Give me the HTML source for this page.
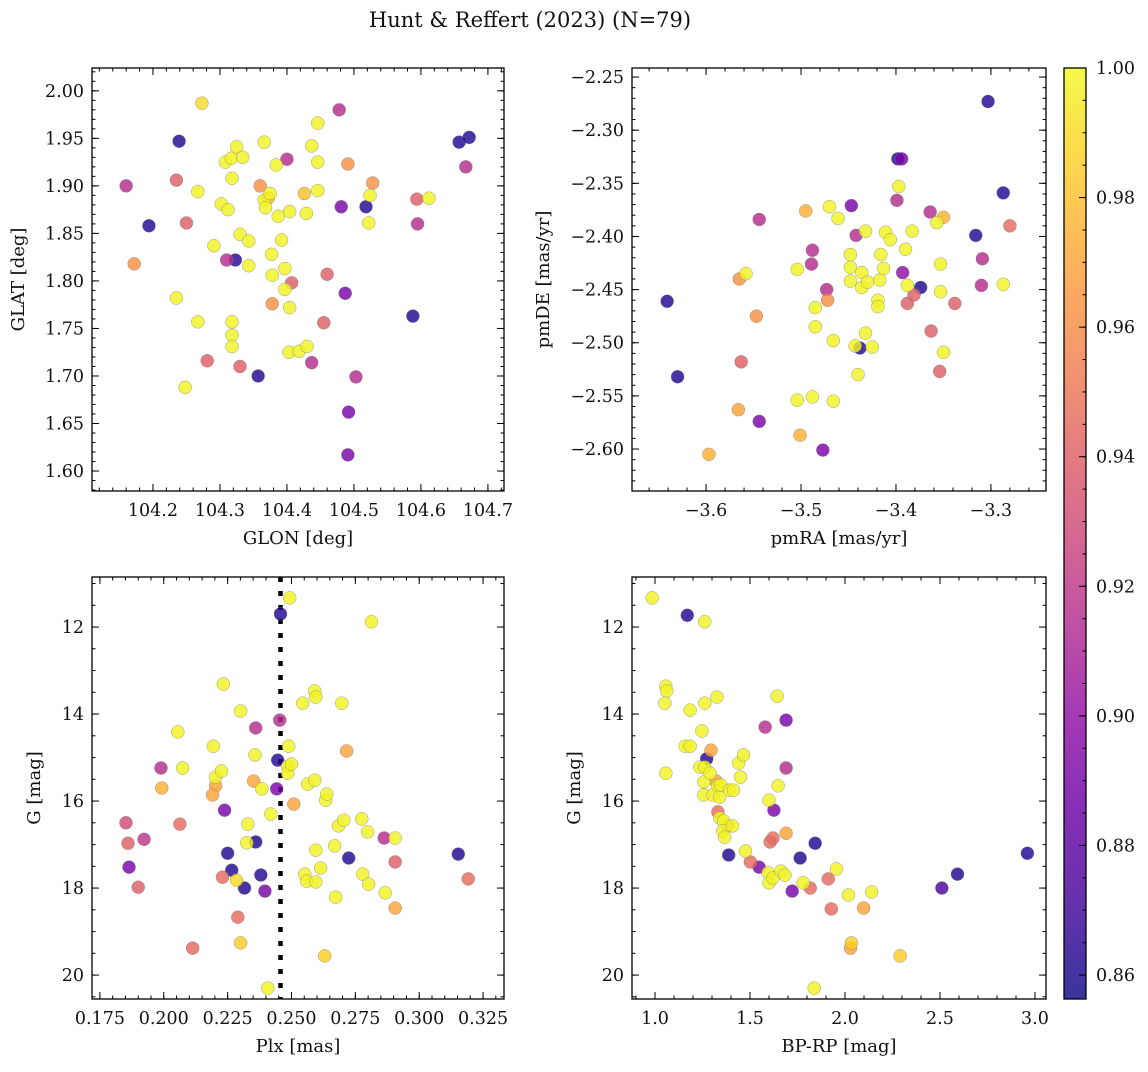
<!DOCTYPE html>
<html><head><meta charset="utf-8"><style>
body{margin:0;background:#fff;}
svg text{font-family:"DejaVu Serif","Liberation Serif",serif;fill:#111;}
</style></head><body>
<svg id="fig" width="1148" height="1067" xmlns="http://www.w3.org/2000/svg">
<defs>
<linearGradient id="plasma" x1="0" y1="1" x2="0" y2="0">
<stop offset="0" stop-color="#0d0887"/><stop offset="0.1" stop-color="#41049d"/><stop offset="0.2" stop-color="#6a00a8"/><stop offset="0.3" stop-color="#8f0da4"/><stop offset="0.4" stop-color="#b12a90"/><stop offset="0.5" stop-color="#cc4778"/><stop offset="0.6" stop-color="#e16462"/><stop offset="0.7" stop-color="#f2844b"/><stop offset="0.8" stop-color="#fca636"/><stop offset="0.9" stop-color="#fcce25"/><stop offset="1" stop-color="#f0f921"/>
</linearGradient>
</defs>
<text x="530" y="27" font-size="21" text-anchor="middle">Hunt &amp; Reffert (2023) (N=79)</text>
</svg>
<script>
// Panel 1: GLON vs GLAT
const p1x=[104.160,104.194,104.172,104.235,104.273,104.239,104.267,104.250,104.235,104.267,104.281,104.248,104.291,104.302,104.312,104.308,104.317,104.318,104.325,104.334,104.330,104.343,104.310,104.323,104.343,104.318,104.318,104.318,104.330,104.357,104.360,104.366,104.366,104.368,104.375,104.372,104.384,104.387,104.377,104.392,104.397,104.378,104.378,104.400,104.397,104.404,104.404,104.407,104.403,104.418,104.430,104.426,104.429,104.437,104.446,104.446,104.446,104.437,104.455,104.460,104.478,104.481,104.487,104.491,104.492,104.491,104.503,104.518,104.522,104.524,104.528,104.588,104.594,104.595,104.612,104.657,104.672,104.667];
const p1y=[1.900,1.858,1.818,1.906,1.987,1.947,1.894,1.861,1.782,1.757,1.716,1.688,1.837,1.881,1.875,1.925,1.929,1.908,1.941,1.930,1.849,1.842,1.822,1.822,1.816,1.757,1.743,1.731,1.710,1.700,1.900,1.946,1.885,1.877,1.892,1.887,1.922,1.868,1.828,1.843,1.813,1.806,1.776,1.928,1.791,1.873,1.772,1.798,1.725,1.726,1.731,1.892,1.871,1.942,1.966,1.925,1.895,1.714,1.756,1.807,1.980,1.878,1.787,1.923,1.662,1.617,1.699,1.878,1.861,1.890,1.903,1.763,1.886,1.860,1.887,1.946,1.951,1.920];
const p1c=[0.915,0.862,0.962,0.94,0.99,0.862,0.998,0.94,0.998,0.998,0.94,0.998,0.998,0.998,0.998,0.998,0.998,0.998,0.998,0.998,0.998,0.998,0.915,0.862,0.998,0.998,0.998,0.998,0.94,0.862,0.962,0.998,0.998,0.998,0.998,0.98,0.998,0.998,0.998,0.998,0.998,0.998,0.962,0.915,0.998,0.998,0.998,0.94,0.998,0.998,0.998,0.98,0.998,0.998,0.998,0.998,0.998,0.915,0.94,0.94,0.915,0.89,0.89,0.962,0.89,0.89,0.915,0.862,0.998,0.998,0.962,0.862,0.94,0.915,0.998,0.862,0.862,0.915];
// Panel 2: pmRA vs pmDE
const p2x=[-3.641,-3.630,-3.597,-3.565,-3.563,-3.566,-3.558,-3.547,-3.544,-3.544,-3.504,-3.504,-3.501,-3.495,-3.489,-3.488,-3.488,-3.485,-3.485,-3.477,-3.473,-3.472,-3.470,-3.466,-3.466,-3.461,-3.447,-3.448,-3.448,-3.448,-3.442,-3.443,-3.440,-3.438,-3.436,-3.436,-3.432,-3.432,-3.430,-3.425,-3.419,-3.419,-3.417,-3.416,-3.413,-3.411,-3.406,-3.398,-3.394,-3.397,-3.399,-3.393,-3.390,-3.388,-3.388,-3.383,-3.381,-3.374,-3.364,-3.363,-3.357,-3.353,-3.353,-3.350,-3.354,-3.350,-3.338,-3.316,-3.310,-3.309,-3.303,-3.287,-3.287,-3.280];
const p2y=[-2.461,-2.532,-2.605,-2.440,-2.518,-2.563,-2.435,-2.475,-2.574,-2.384,-2.431,-2.554,-2.587,-2.376,-2.426,-2.413,-2.551,-2.467,-2.485,-2.601,-2.450,-2.460,-2.372,-2.498,-2.555,-2.383,-2.371,-2.417,-2.429,-2.442,-2.399,-2.503,-2.530,-2.505,-2.434,-2.448,-2.395,-2.491,-2.443,-2.504,-2.460,-2.466,-2.441,-2.417,-2.430,-2.396,-2.403,-2.327,-2.327,-2.353,-2.366,-2.434,-2.412,-2.446,-2.463,-2.395,-2.455,-2.448,-2.377,-2.489,-2.387,-2.426,-2.452,-2.382,-2.527,-2.509,-2.463,-2.399,-2.446,-2.421,-2.273,-2.359,-2.445,-2.390];
const p2c=[0.862,0.862,0.975,0.962,0.94,0.97,0.998,0.962,0.89,0.915,0.998,0.998,0.975,0.975,0.915,0.915,0.998,0.998,0.998,0.89,0.915,0.962,0.998,0.998,0.998,0.998,0.89,0.998,0.998,0.998,0.915,0.998,0.998,0.862,0.998,0.998,0.998,0.998,0.998,0.998,0.998,0.998,0.998,0.998,0.998,0.998,0.998,0.862,0.89,0.998,0.915,0.90,0.998,0.998,0.94,0.998,0.94,0.862,0.915,0.94,0.998,0.998,0.998,0.975,0.94,0.998,0.94,0.862,0.915,0.915,0.862,0.862,0.998,0.945];
// Panel 3: Plx vs G
const p3x=[0.1852,0.1860,0.1864,0.1900,0.1923,0.1989,0.1992,0.2055,0.2063,0.2074,0.2113,0.2194,0.2203,0.2203,0.2191,0.2226,0.2233,0.2238,0.2250,0.2230,0.2266,0.2285,0.2290,0.2301,0.2301,0.2316,0.2325,0.2329,0.2352,0.2357,0.2360,0.2360,0.2384,0.2380,0.2396,0.2407,0.2419,0.2442,0.2446,0.2454,0.2457,0.2485,0.2489,0.2485,0.2493,0.2500,0.2509,0.2544,0.2552,0.2559,0.2563,0.2591,0.2595,0.2591,0.2595,0.2595,0.2614,0.2634,0.2638,0.2630,0.2669,0.2673,0.2684,0.2697,0.2705,0.2716,0.2724,0.2775,0.2779,0.2798,0.2802,0.2813,0.2867,0.2863,0.2906,0.2906,0.2906,0.3153,0.3192];
const p3y=[16.50,16.97,17.52,17.98,16.88,15.24,15.70,14.41,16.53,15.24,19.38,14.74,15.45,15.65,15.86,15.31,13.31,16.21,17.20,17.75,17.59,17.82,18.67,13.93,19.26,18.00,16.96,16.53,15.54,14.94,14.32,16.94,15.72,17.70,18.07,20.30,16.30,15.72,15.06,14.14,11.70,15.20,14.74,15.36,11.33,15.15,16.07,13.75,17.68,17.84,15.61,13.47,13.61,15.52,17.13,17.86,17.54,15.98,15.84,19.56,17.03,18.21,16.57,13.75,16.44,14.85,17.31,16.41,17.68,16.71,17.91,11.88,18.11,16.85,16.85,17.40,18.46,17.22,17.79];
const p3c=[0.93,0.94,0.89,0.94,0.92,0.915,0.975,0.998,0.945,0.998,0.945,0.998,0.998,0.97,0.97,0.998,0.998,0.89,0.862,0.945,0.862,0.99,0.945,0.998,0.985,0.862,0.998,0.998,0.97,0.998,0.915,0.862,0.998,0.862,0.89,0.998,0.998,0.89,0.862,0.915,0.862,0.998,0.998,0.998,0.998,0.998,0.97,0.998,0.998,0.998,0.998,0.998,0.998,0.998,0.998,0.998,0.998,0.998,0.998,0.985,0.998,0.998,0.998,0.998,0.998,0.97,0.862,0.998,0.998,0.998,0.998,0.998,0.998,0.915,0.998,0.94,0.97,0.862,0.945];
// Panel 4: BP-RP vs G
const p4x=[0.985,1.057,1.062,1.052,1.057,1.170,1.185,1.159,1.185,1.236,1.247,1.257,1.257,1.262,1.262,1.262,1.272,1.290,1.295,1.305,1.321,1.326,1.331,1.341,1.346,1.331,1.341,1.362,1.357,1.367,1.382,1.388,1.408,1.393,1.413,1.440,1.450,1.466,1.476,1.502,1.548,1.580,1.595,1.600,1.606,1.621,1.600,1.621,1.626,1.643,1.648,1.663,1.684,1.690,1.690,1.690,1.722,1.764,1.780,1.817,1.843,1.838,1.912,1.928,1.955,2.018,2.034,2.029,2.098,2.140,2.290,2.510,2.592,2.960];
const p4y=[11.33,13.36,13.47,13.75,15.36,11.73,13.91,14.74,14.74,15.22,14.39,15.56,15.86,11.88,13.75,15.22,15.03,15.36,14.83,15.86,15.54,13.61,15.65,15.91,15.63,16.25,16.39,16.46,16.69,16.83,16.57,17.24,16.57,15.75,15.75,15.13,15.45,14.94,17.15,17.40,17.52,14.30,17.65,15.98,16.94,16.85,17.88,17.77,16.21,13.59,15.65,17.61,17.70,15.24,14.14,16.74,18.07,17.31,17.88,18.00,16.97,20.30,17.79,18.48,17.56,18.16,19.26,19.38,18.46,18.09,19.56,18.00,17.68,17.20];
const p4c=[0.998,0.998,0.998,0.998,0.998,0.862,0.998,0.998,0.998,0.998,0.998,0.998,0.998,0.998,0.998,0.998,0.862,0.998,0.97,0.998,0.97,0.998,0.998,0.998,0.998,0.945,0.998,0.998,0.998,0.998,0.97,0.862,0.998,0.998,0.998,0.998,0.998,0.998,0.998,0.945,0.89,0.915,0.998,0.998,0.945,0.945,0.998,0.998,0.89,0.998,0.998,0.998,0.998,0.915,0.89,0.97,0.89,0.862,0.998,0.945,0.862,0.998,0.945,0.945,0.998,0.998,0.985,0.97,0.97,0.998,0.985,0.875,0.862,0.862];
const cbTicks=[0.86,0.88,0.90,0.92,0.94,0.96,0.98,1.00];

const NS='http://www.w3.org/2000/svg';
const svg=document.getElementById('fig');
function mk(tag,attrs,parent){const e=document.createElementNS(NS,tag);for(const k in attrs)e.setAttribute(k,attrs[k]);(parent||svg).appendChild(e);return e;}
const stops=[[13,8,135],[65,4,157],[106,0,168],[143,13,164],[177,42,144],[204,71,120],[225,100,98],[242,132,75],[252,166,54],[252,206,37],[240,249,33]];
const CMIN=0.8563,CMAX=1.0;
function plasma(v){let t=(v-CMIN)/(CMAX-CMIN);t=Math.max(0,Math.min(1,t))*10;const i=Math.min(9,Math.floor(t)),f=t-i;const a=stops[i],b=stops[i+1];return 'rgb('+[0,1,2].map(k=>Math.round(a[k]+(b[k]-a[k])*f)).join(',')+')';}
function range(a,b,s){const r=[];for(let v=a;v<=b+s*1e-6;v+=s)r.push(+v.toFixed(6));return r;}
function fmtMinus(s){return s.replace('-','\u2212');}

function panel(cfg){
  const {L,T,R,B}=cfg;
  const g=mk('g',{});
  
  
  const sx=v=>L+(v-cfg.xd[0])/(cfg.xd[1]-cfg.xd[0])*(R-L);
  const sy=cfg.yinv?(v=>T+(v-cfg.yd[0])/(cfg.yd[1]-cfg.yd[0])*(B-T)):(v=>B-(v-cfg.yd[0])/(cfg.yd[1]-cfg.yd[0])*(B-T));
  if(cfg.vline!==undefined){const l=mk('line',{x1:sx(cfg.vline),x2:sx(cfg.vline),y1:T,y2:B,stroke:'#000','stroke-width':4.5,'stroke-dasharray':'5,9'},g);}
  const pts=mk('g',{},g);
  
  
  const idx=cfg.x.map((_,i)=>i).sort((a,b)=>cfg.c[a]-cfg.c[b]);
  idx.forEach(i=>{const c=mk('circle',{cx:sx(cfg.x[i]),cy:sy(cfg.y[i]),r:6.5,fill:plasma(cfg.c[i]),'fill-opacity':0.82,stroke:'#777','stroke-width':0.5,'stroke-opacity':0.7},pts);
    
    });
  const tk=mk('g',{stroke:'#000','stroke-width':1},g);
  
  
  const inX=v=>{const p=sx(v);return p>=L-0.5&&p<=R+0.5;};
  const inY=v=>{const p=sy(v);return p>=T-0.5&&p<=B+0.5;};
  range(cfg.xmin[0],cfg.xmin[1],cfg.xmin[2]).filter(inX).forEach(v=>{const p=sx(v);mk('line',{x1:p,x2:p,y1:B,y2:B-3.5},tk);mk('line',{x1:p,x2:p,y1:T,y2:T+3.5},tk);});
  range(cfg.ymin[0],cfg.ymin[1],cfg.ymin[2]).filter(inY).forEach(v=>{const p=sy(v);mk('line',{x1:L,x2:L+3.5,y1:p,y2:p},tk);mk('line',{x1:R,x2:R-3.5,y1:p,y2:p},tk);});
  cfg.xt.filter(inX).forEach(v=>{const p=sx(v);mk('line',{x1:p,x2:p,y1:B,y2:B-7},tk);mk('line',{x1:p,x2:p,y1:T,y2:T+7},tk);
    const t=mk('text',{x:p,y:B+25,'font-size':17.5,'text-anchor':'middle'},g);t.textContent=fmtMinus(v.toFixed(cfg.xf));
    
    });
  cfg.yt.filter(inY).forEach(v=>{const p=sy(v);mk('line',{x1:L,x2:L+7,y1:p,y2:p},tk);mk('line',{x1:R,x2:R-7,y1:p,y2:p},tk);
    const t=mk('text',{x:L-8,y:p+6,'font-size':17.5,'text-anchor':'end'},g);t.textContent=fmtMinus(v.toFixed(cfg.yf));
    
    });
  const fr=mk('rect',{x:L,y:T,width:R-L,height:B-T,fill:'none',stroke:'#000','stroke-width':1.3},g);
  
  
  const xl=mk('text',{x:(L+R)/2,y:B+53,'font-size':18,'text-anchor':'middle'},g);xl.textContent=cfg.xl;
  
  
  const yx=cfg.ylx,yy=(T+B)/2;
  const yl=mk('text',{x:yx,y:yy,'font-size':18,'text-anchor':'middle',transform:'rotate(-90 '+yx+' '+yy+')'},g);yl.textContent=cfg.yl;
  
  
}
panel({name:'glon-glat-panel',L:92,T:68,R:504,B:491,xd:[104.109,104.724],yd:[1.579,2.024],x:p1x,y:p1y,c:p1c,xt:range(104.2,104.7,0.1),xmin:[104.12,104.72,0.02],xf:1,yt:range(1.60,2.00,0.05),ymin:[1.58,2.02,0.01],yf:2,xl:'GLON [deg]',yl:'GLAT [deg]',ylx:24});
panel({name:'proper-motion-panel',L:632,T:68,R:1046,B:491,xd:[-3.678,-3.242],yd:[-2.6395,-2.2415],x:p2x,y:p2y,c:p2c,xt:[-3.6,-3.5,-3.4,-3.3],xmin:[-3.66,-3.24,0.02],xf:1,yt:range(-2.60,-2.25,0.05),ymin:[-2.63,-2.25,0.01],yf:2,xl:'pmRA [mas/yr]',yl:'pmDE [mas/yr]',ylx:549});
panel({name:'parallax-magnitude-panel',L:92,T:577,R:504,B:999,xd:[0.1719,0.3332],yd:[10.85,20.55],yinv:true,x:p3x,y:p3y,c:p3c,xt:range(0.175,0.325,0.025),xmin:[0.175,0.33,0.005],xf:3,yt:[12,14,16,18,20],ymin:[11,20.5,0.5],yf:0,xl:'Plx [mas]',yl:'G [mag]',ylx:40,vline:0.2457});
panel({name:'color-magnitude-panel',L:632,T:577,R:1046,B:999,xd:[0.879,3.058],yd:[10.85,20.55],yinv:true,x:p4x,y:p4y,c:p4c,xt:[1.0,1.5,2.0,2.5,3.0],xmin:[0.9,3.05,0.1],xf:1,yt:[12,14,16,18,20],ymin:[11,20.5,0.5],yf:0,xl:'BP-RP [mag]',yl:'G [mag]',ylx:580});
const cbL=1064,cbR=1086,cbT=68,cbB=999;
const cb=mk('g',{});


mk('rect',{x:cbL,y:cbT,width:cbR-cbL,height:cbB-cbT,fill:'url(#plasma)','fill-opacity':0.82},cb);
mk('rect',{x:cbL,y:cbT,width:cbR-cbL,height:cbB-cbT,fill:'none',stroke:'#000','stroke-width':1.3},cb);
const cy=v=>cbB-(v-CMIN)/(CMAX-CMIN)*(cbB-cbT);
range(0.86,1.0,0.005).forEach(v=>{mk('line',{x1:cbR,x2:cbR-3.5,y1:cy(v),y2:cy(v),stroke:'#000'},cb);});
cbTicks.forEach(v=>{mk('line',{x1:cbR,x2:cbR-7,y1:cy(v),y2:cy(v),stroke:'#000'},cb);
  const t=mk('text',{x:cbR+10,y:cy(v)+6,'font-size':17.5},cb);t.textContent=v.toFixed(2);
  
  });
</script>
</body></html>
